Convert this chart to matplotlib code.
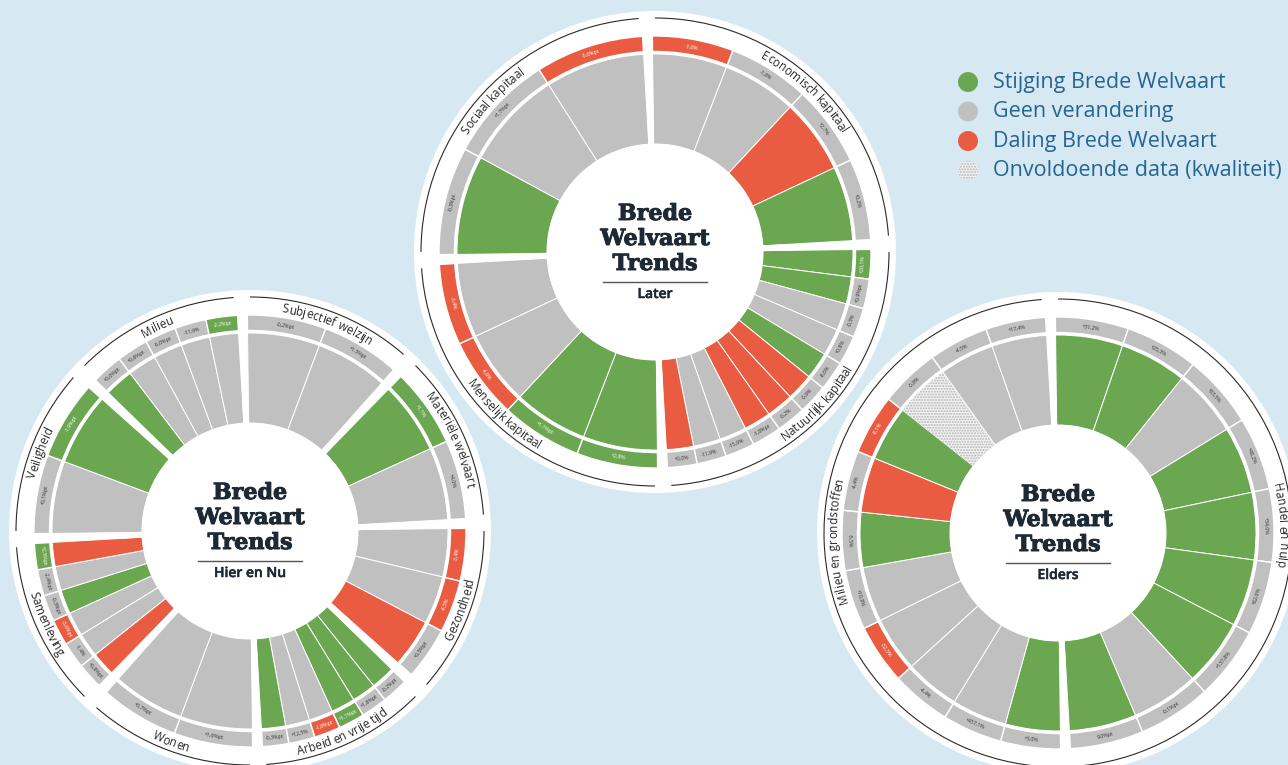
"""
Brede Welvaart Trends - three radial wheels (Later, Hier en Nu, Elders)
"""
import numpy as np
import matplotlib
matplotlib.use("Agg")
import matplotlib.pyplot as plt
import matplotlib.patheffects as pe
from matplotlib.patches import Wedge, Circle, Arc
from matplotlib.font_manager import FontProperties, findfont, get_font

W, H, DPI = 1288, 765, 100
BG = "#d6e9f2"; GREEN = "#6ba751"; RED = "#ea5c41"; GRAY = "#c0c0c0"; DOT = "#f3f3f3"
INK = "#1d2935"; LABEL = "#2a2a2a"; LINE = "#2a2a2a"; LEGEND_TXT = "#256595"
LABEL_FONT = "Open Sans"; TITLE_FONT = "DejaVu Serif"
COLORS = {"+": GREEN, "0": GRAY, "-": RED, "?": DOT}

# status codes: "+" stijging, "0" geen verandering, "-" daling, "?" onvoldoende data
# groups run clockwise from 12 o'clock, indicators clockwise inside each group
LATER_GROUPS = ["Economisch kapitaal", "Natuurlijk kapitaal", "Menselijk kapitaal", "Sociaal kapitaal"]
LATER_INNER = ["00-+", "++00+---00-", "++00", "+00"]
LATER_BAND = ["-000", "+0000000000", "++--", "00-"]
LATER_VALUES = [
    ["-1,8%", "-1,8%", "+2,7%", "+0,2%"],
    ["+20,1%", "+0,9%pt", "-0,3%", "+0,8%", "-8,6%", "-0,9%", "-0,2%", "-1,8%pt", "-15,9%", "-11,9%", "+0,0%"],
    ["+2,8%", "+1,1%pt", "-4,8%", "-3,4%"],
    ["-0,3%pt", "+1,7%pt", "-5,6%pt"],
]

HIER_GROUPS = ["Subjectief welzijn", "Materiële welvaart", "Gezondheid", "Arbeid en vrije tijd",
               "Wonen", "Samenleving", "Veiligheid", "Milieu"]
HIER_INNER = ["00", "+0", "00-", "+++00+", "00", "-00+0-", "0+", "+0000"]
HIER_BAND = ["00", "+0", "--0", "00+-00", "00", "00-00+", "0+", "0000+"]
HIER_VALUES = [
    ["-0,2%pt", "+1,5%pt"],
    ["+1,1%", "+4,0%"],
    ["-3,4%", "-4,5%", "+0,5%pt"],
    ["-0,2%pt", "+1,8%pt", "+1,1%pt", "-1,8%pt", "+12,5%", "-0,3%pt"],
    ["+1,6%pt", "+0,7%pt"],
    ["+0,8%pt", "-1,4%", "-3,6%pt", "-0,3%pt", "-2,4%pt", "+2,5%pt"],
    ["+0,1%pt", "-1,9%pt"],
    ["+0,0%pt", "+0,8%pt", "-6,0%pt", "-11,9%", "-2,2%pt"],
]

ELDERS_GROUPS = ["Handel en hulp", "Milieu en grondstoffen"]
ELDERS_INNER = ["++0++++0+", "+0000+-+?00"]
ELDERS_BAND = ["000000000", "000-000-000"]
ELDERS_VALUES = [
    ["+31,2%", "+25,3%", "+83,5%", "+48,2%", "+34,0%", "+82,6%", "+137,8%", "-0,1%pt", "9,0%pt"],
    ["+3,0%", "+457,1%", "-4,4%", "-32,5%", "+10,9%", "-5,5%", "-4,4%", "-8,1%", "-0,8%", "-4,5%", "+17,4%"],
]

LEGEND_LABELS = ["Stijging Brede Welvaart", "Geen verandering", "Daling Brede Welvaart",
                 "Onvoldoende data (kwaliteit)"]
LEGEND_CODES = ["+", "0", "-", "?"]

# geometry in pixels
R_IN, R_WEDGE, R_BAND_IN, R_BAND_OUT = 108, 198, 200.5, 216
R_LABEL, R_ARC, R_DISC = 225, 234, 241
ROT, GAP, ARC_GAP = 2.0, 1.3, 2.0


def pol(cx, cy, r, t):
    return cx + r * np.cos(np.radians(t)), cy + r * np.sin(np.radians(t))


def curved_label(ax, cx, cy, r, theta, text, size=8.5):
    # one text per character, each glyph's ink centre put on the arc
    prop = FontProperties(family=LABEL_FONT, size=size)
    font = get_font(findfont(prop))
    font.set_size(size, 72)
    k = DPI / 72
    glyphs = [font.load_char(ord(c)) for c in text]
    adv = [g.linearHoriAdvance / 65536 * k for g in glyphs]
    ink = [(g.bbox[0] + g.bbox[2]) / 128 * k for g in glyphs]
    upper = np.sin(np.radians(theta)) > -0.1
    cap = 0.72 * size * k
    rb = r - cap / 2 if upper else r + cap / 2
    sign = -1 if upper else 1
    pos = -sum(adv) / 2
    for ch, a, ic in zip(text, adv, ink):
        if ch != " ":
            t = theta + sign * np.degrees((pos + ic) / rb)
            x, y = pol(cx, cy, rb, t)
            ax.text(x, y, ch, rotation=(t - 90) if upper else (t + 90), rotation_mode="anchor",
                    ha="center", va="baseline", fontproperties=prop, color=LABEL, zorder=6)
        pos += a


def status_patch(patch, code):
    if code == "?":
        patch.set_facecolor(DOT); patch.set_edgecolor("#b4b4b4")
        patch.set_hatch("......"); patch.set_linewidth(0)
    return patch


def draw_wheel(ax, cx, cy, groups, inner, band, values, subtitle):
    ax.add_patch(Circle((cx, cy), R_DISC, facecolor="white", edgecolor="none", zorder=1))
    span = 360 / len(groups)
    for gi, name in enumerate(groups):
        g0 = 90 + ROT - gi * span
        g1 = g0 - span
        k = len(inner[gi])
        a0, a1 = g0 - GAP, g1 + GAP
        step = (a0 - a1) / k
        for j in range(k):
            t2 = a0 - j * step
            t1 = t2 - step
            ci, cb = inner[gi][j], band[gi][j]
            w = Wedge((cx, cy), R_WEDGE, t1, t2, width=R_WEDGE - R_IN, facecolor=COLORS[ci],
                      edgecolor="white", linewidth=0.7, zorder=2)
            ax.add_patch(status_patch(w, ci))
            ax.add_patch(Wedge((cx, cy), R_BAND_OUT, t1, t2, width=R_BAND_OUT - R_BAND_IN,
                               facecolor=COLORS[cb], edgecolor="white", linewidth=1.0, zorder=2))
            tm = (t1 + t2) / 2
            x, y = pol(cx, cy, (R_BAND_IN + R_BAND_OUT) / 2, tm)
            rot = tm - 90 if np.sin(np.radians(tm)) > 0 else tm + 90
            ax.text(x, y, values[gi][j], rotation=rot, rotation_mode="anchor", ha="center",
                    va="center", fontsize=3.8, family=LABEL_FONT, zorder=4,
                    color="white" if cb in "+-" else "#333333")
        for t in (g0, g1):
            xa, ya = pol(cx, cy, R_IN - 2, t)
            xb, yb = pol(cx, cy, R_BAND_OUT + 2, t)
            ax.plot([xa, xb], [ya, yb], color="white", linewidth=4.2, solid_capstyle="butt", zorder=3)
        ax.add_patch(Arc((cx, cy), 2 * R_ARC, 2 * R_ARC, theta1=g1 + ARC_GAP, theta2=g0 - ARC_GAP,
                         color=LINE, linewidth=0.8, zorder=5))
        curved_label(ax, cx, cy, R_LABEL, (g0 + g1) / 2, name)
    ax.add_patch(Circle((cx, cy), R_IN, facecolor="white", edgecolor="none", zorder=4))
    heavy = [pe.withStroke(linewidth=0.7, foreground=INK)]
    for txt, dy in zip(["Brede", "Welvaart", "Trends"], [38, 13, -12]):
        ax.text(cx, cy + dy, txt, ha="center", va="center", fontsize=16, fontweight="bold",
                family=TITLE_FONT, color=INK, zorder=6, path_effects=heavy)
    ax.plot([cx - 52, cx + 52], [cy - 30, cy - 30], color="#555555", linewidth=1.0, zorder=6)
    ax.text(cx, cy - 42, subtitle, ha="center", va="center", fontsize=10, family=LABEL_FONT,
            fontweight="semibold", color=INK, zorder=6,
            path_effects=[pe.withStroke(linewidth=0.35, foreground=INK)])


fig = plt.figure(figsize=(W / DPI, H / DPI), dpi=DPI, facecolor=BG)
ax = fig.add_axes([0, 0, 1, 1])
ax.set_xlim(0, W); ax.set_ylim(0, H); ax.set_aspect("equal"); ax.axis("off")
ax.set_facecolor(BG)

draw_wheel(ax, 655, H - 252, LATER_GROUPS, LATER_INNER, LATER_BAND, LATER_VALUES, "Later")
draw_wheel(ax, 250, H - 531, HIER_GROUPS, HIER_INNER, HIER_BAND, HIER_VALUES, "Hier en Nu")
draw_wheel(ax, 1058, H - 533, ELDERS_GROUPS, ELDERS_INNER, ELDERS_BAND, ELDERS_VALUES, "Elders")

for i, (lab, code) in enumerate(zip(LEGEND_LABELS, LEGEND_CODES)):
    y = H - (82 + i * 29.5)
    c = Circle((968, y), 10, facecolor=COLORS[code], edgecolor="none", zorder=5)
    ax.add_patch(status_patch(c, code))
    ax.text(993, y, lab, ha="left", va="center", fontsize=15.5, family=LABEL_FONT,
            color=LEGEND_TXT, zorder=5)

fig.savefig("out.png", dpi=DPI, facecolor=BG)
